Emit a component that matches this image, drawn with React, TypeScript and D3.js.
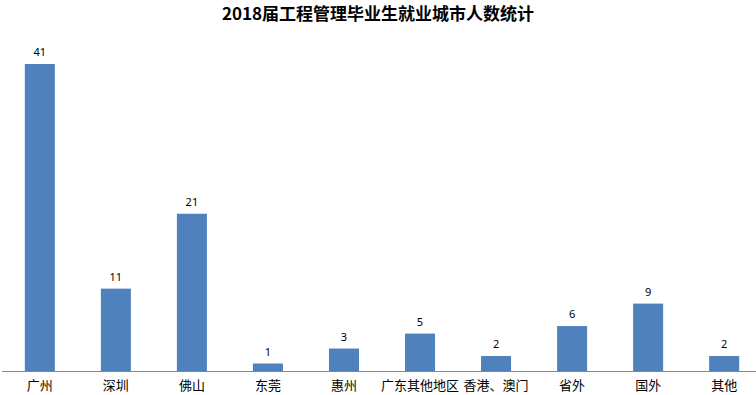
import * as React from 'react';
import * as d3 from 'd3';

const categories: string[] = ['广州', '深圳', '佛山', '东莞', '惠州', '广东其他地区', '香港、澳门', '省外', '国外', '其他'];
const counts: number[] = [41, 11, 21, 1, 3, 5, 2, 6, 9, 2];
const title = '2018届工程管理毕业生就业城市人数统计';

const W = 756;
const H = 395;

export default function App() {
	const ref = React.useRef<SVGSVGElement>(null);

	React.useEffect(() => {
		const svg = d3.select(ref.current);
		svg.selectAll('*').remove();

		const baseY = 371;
		const x = d3.scaleBand<string>().domain(categories).range([2, 762]).paddingInner(0.605).paddingOuter(0.3);
		const y = d3.scaleLinear().domain([0, 41]).range([baseY, 64]);

		svg.append('text')
			.attr('x', 378)
			.attr('y', 20)
			.attr('text-anchor', 'middle')
			.attr('font-family', '"Noto Sans CJK SC", sans-serif')
			.attr('font-weight', 'bold')
			.attr('font-size', 17)
			.attr('fill', '#000')
			.text(title);

		const data = categories.map((c, i) => ({ c, v: counts[i] }));

		svg.append('g')
			.selectAll('rect')
			.data(data)
			.join('rect')
			.attr('x', (d) => x(d.c)!)
			.attr('y', (d) => y(d.v))
			.attr('width', x.bandwidth())
			.attr('height', (d) => baseY - y(d.v))
			.attr('fill', '#4f81bd');

		svg.append('g')
			.selectAll('text')
			.data(data)
			.join('text')
			.attr('x', (d) => x(d.c)! + x.bandwidth() / 2)
			.attr('y', (d) => y(d.v) - 8)
			.attr('text-anchor', 'middle')
			.attr('font-family', '"Noto Sans", sans-serif')
			.attr('font-size', 11)
			.attr('fill', '#000')
			.text((d) => d.v);

		const axis = svg.append('g')
			.attr('transform', `translate(0,${baseY})`)
			.attr('color', '#000')
			.call(d3.axisBottom(x).tickSize(0).tickPadding(10));
		axis.select('.domain').attr('stroke', '#868686').attr('d', `M2,0.5H${W}`);
		axis.selectAll('text')
			.attr('font-family', '"Noto Sans CJK SC", sans-serif')
			.attr('font-size', 13)
			.attr('fill', '#000');
	}, []);

	return (
		<svg ref={ref} width={W} height={H} style={{ position: 'absolute', left: 0, top: 0, background: '#fff' }} />
	);
}
